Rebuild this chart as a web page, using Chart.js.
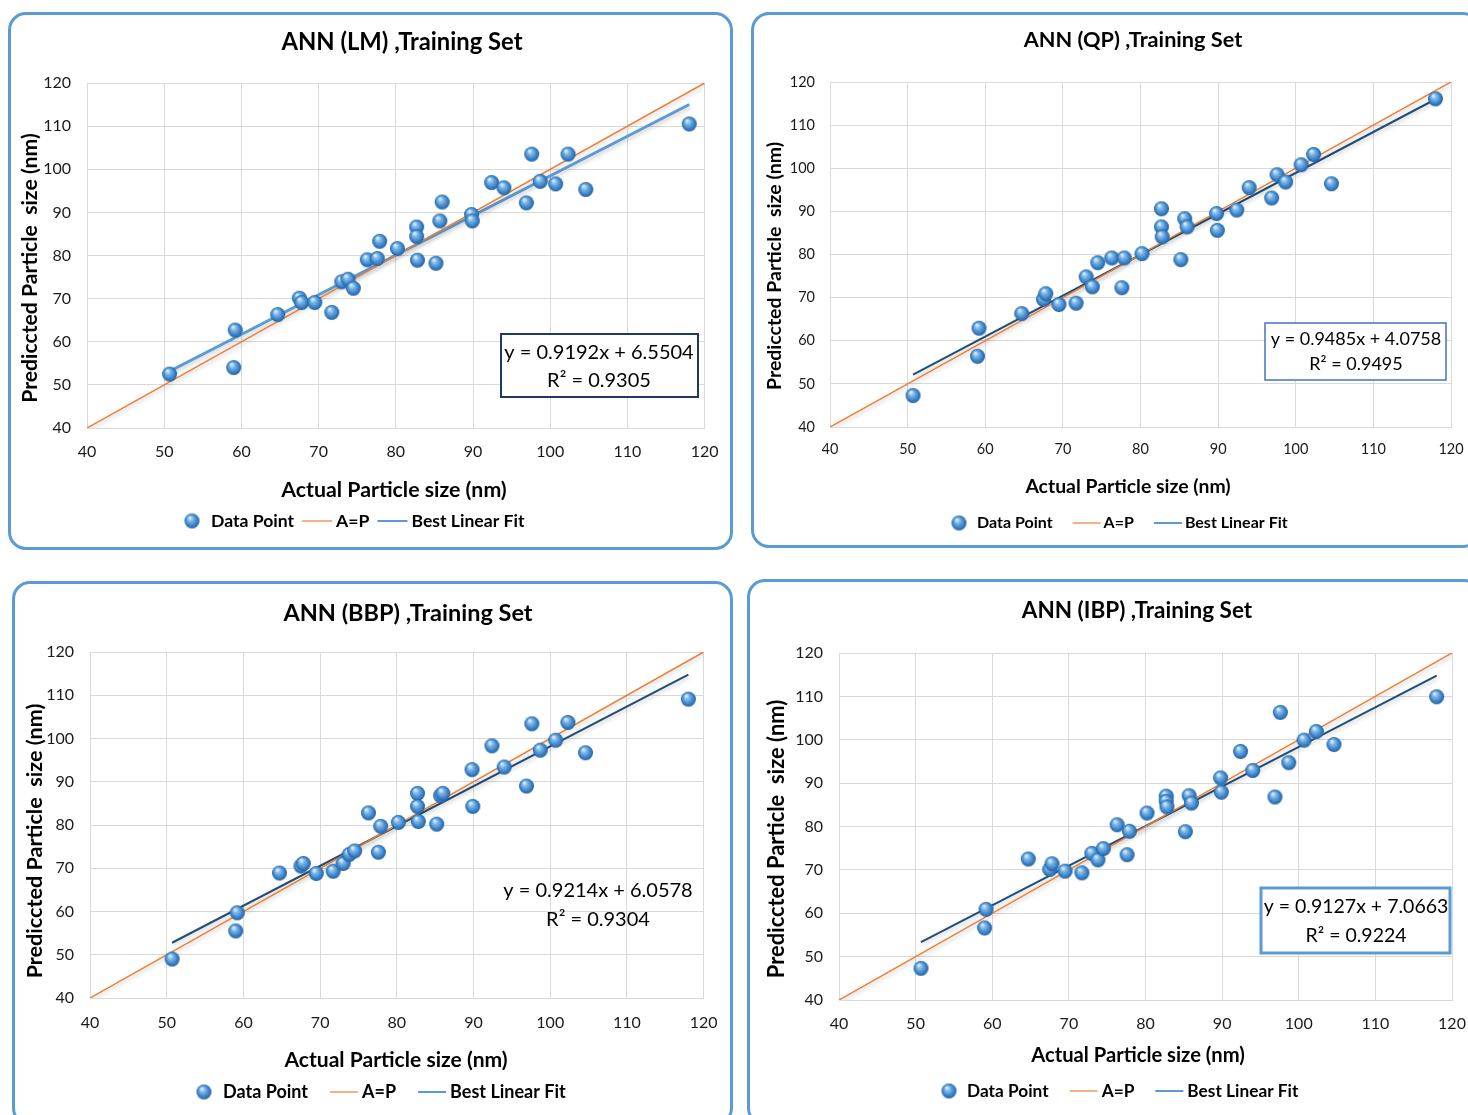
<!DOCTYPE html>
<html>
<head>
<meta charset="utf-8">
<title>ANN Training Set – Actual vs Predicted Particle Size</title>
<script src="https://cdn.jsdelivr.net/npm/chart.js@4.4.1/dist/chart.umd.min.js"></script>
<style>
  html, body { margin: 0; padding: 0; background: #ffffff; }
  body { width: 1468px; height: 1115px; overflow: hidden; position: relative; }
  .frame { position: absolute; box-sizing: border-box; border: 3px solid #5b9bd5; border-radius: 18px; }
  .panel { position: absolute; }
  .panel canvas { display: block; }
</style>
</head>
<body>
<script>
const FONT = "Lato, 'Noto Sans', sans-serif";

// Actual particle sizes of the training samples (nm)
const actualSize = [50.7, 59.0, 59.2, 64.7, 67.5, 67.8, 69.5, 71.7, 73.0, 73.8, 74.5, 76.3, 77.6, 77.9, 80.2, 82.7,
                    82.7, 82.8, 85.2, 85.7, 86.0, 89.8, 89.9, 92.4, 94.0, 96.9, 97.6, 98.7, 100.7, 102.3, 104.6, 118.0];

// Network predictions for each training algorithm (nm)
const predictedLM  = [52.5, 54.0, 62.7, 66.3, 70.1, 69.1, 69.1, 66.8, 73.9, 74.5, 72.4, 79.0, 79.3, 83.3, 81.6, 86.6,
                      84.4, 78.9, 78.2, 88.0, 92.4, 89.5, 88.0, 96.9, 95.7, 92.2, 103.5, 97.2, 96.6, 103.5, 95.3, 110.5];
const predictedQP  = [47.3, 56.4, 62.9, 66.3, 69.6, 70.9, 68.4, 68.7, 74.8, 72.5, 78.1, 79.2, 72.3, 79.2, 80.2, 90.6,
                      86.4, 84.1, 78.8, 88.3, 86.4, 89.5, 85.6, 90.3, 95.5, 93.1, 98.5, 96.8, 100.8, 103.2, 96.4, 116.1];
const predictedBBP = [49.0, 55.5, 59.7, 68.9, 70.5, 71.1, 68.8, 69.3, 71.1, 73.2, 74.0, 82.8, 73.7, 79.7, 80.6, 87.3,
                      84.3, 80.8, 80.2, 86.8, 87.3, 92.8, 84.3, 98.3, 93.4, 89.0, 103.4, 97.3, 99.6, 103.7, 96.7, 109.1];
const predictedIBP = [47.3, 56.6, 60.9, 72.5, 70.1, 71.4, 69.7, 69.3, 73.8, 72.3, 74.9, 80.4, 73.5, 78.9, 83.1, 87.0,
                      85.8, 84.5, 78.8, 87.1, 85.4, 91.2, 87.9, 97.3, 92.9, 86.8, 106.3, 94.7, 99.9, 101.9, 98.9, 109.9];

const methodNames  = ['LM', 'QP', 'BBP', 'IBP'];
const predictions  = [predictedLM, predictedQP, predictedBBP, predictedIBP];
const fitSlope     = [0.9192, 0.9485, 0.9214, 0.9127];
const fitIntercept = [6.5504, 4.0758, 6.0578, 7.0663];
const rSquared     = [0.9305, 0.9495, 0.9304, 0.9224];

const axisTicks    = [40, 50, 60, 70, 80, 90, 100, 110, 120];
const seriesLabels = ['Data Point', 'A=P', 'Best Linear Fit'];
const xAxisTitle   = 'Actual Particle size (nm)';
const yAxisTitle   = 'Prediccted Particle  size (nm)';

// Page geometry of every panel (page pixels)
const panelLayout = [
  { box: [8, 12, 725, 538], plot: [87, 83, 706, 428],
    tickSize: 16, xTickPad: 14.4, yTickPad: 16,
    titleSize: 23.8, titlePos: [402, 42],
    xTitleSize: 21.3, xTitlePos: [394, 490],
    yTitleSize: 21.2, yTitlePos: [30, 268],
    legend: { size: 17.6, y: 521, sphereX: 192, textX: 211, gap: 8, lineLen: 30, lineGap: 4 },
    eq: { size: 20, cx: 599, y1: 353, y2: 381, box: [501, 334, 698, 397], boxColor: '#203864', boxWidth: 2 },
    fitColor: '#5b9bd5', fitWidth: 3 },
  { box: [751, 12, 730, 536], plot: [830, 82, 1451, 427],
    tickSize: 14.5, xTickPad: 13.3, yTickPad: 15,
    titleSize: 21.7, titlePos: [1133, 40],
    xTitleSize: 19.4, xTitlePos: [1128, 487],
    yTitleSize: 19.5, yTitlePos: [775, 266],
    legend: { size: 16, y: 523, sphereX: 959, textX: 977, gap: 20, lineLen: 28, lineGap: 3 },
    eq: { size: 18, cx: 1356, y1: 339, y2: 364, box: [1265, 323, 1446, 380], boxColor: '#4472c4', boxWidth: 1.5 },
    fitColor: '#1f4e79', fitWidth: 2 },
  { box: [12, 581, 721, 545], plot: [90, 652, 707, 998],
    tickSize: 16, xTickPad: 15.4, yTickPad: 16,
    titleSize: 23.5, titlePos: [408, 613],
    xTitleSize: 21.1, xTitlePos: [396, 1060],
    yTitleSize: 21.6, yTitlePos: [35, 841],
    legend: { size: 18, y: 1092, sphereX: 204, textX: 223, gap: 22, lineLen: 28, lineGap: 4 },
    eq: { size: 20, cx: 598, y1: 891, y2: 920, box: null },
    fitColor: '#1f4e79', fitWidth: 2 },
  { box: [747, 579, 735, 547], plot: [839, 653, 1452, 1000],
    tickSize: 16, xTickPad: 14.4, yTickPad: 16,
    titleSize: 22.5, titlePos: [1137, 611],
    xTitleSize: 20.2, xTitlePos: [1138, 1055],
    yTitleSize: 21.9, yTitlePos: [777, 839],
    legend: { size: 17.3, y: 1091, sphereX: 949, textX: 967, gap: 21, lineLen: 28, lineGap: 4 },
    eq: { size: 19.5, cx: 1356, y1: 907, y2: 936, box: [1261, 888, 1450, 953], boxColor: '#5b9bd5', boxWidth: 3 },
    fitColor: '#1f4e79', fitWidth: 2 }
];

// Shaded sphere used as the marker of the data points
function makeSphere(d) {
  const c = document.createElement('canvas');
  c.width = c.height = d + 2;
  const g = c.getContext('2d');
  const r = d / 2, cx = r + 1, cy = r + 1;
  const grad = g.createRadialGradient(cx - r * 0.3, cy - r * 0.45, r * 0.08, cx, cy, r);
  grad.addColorStop(0, '#dcefff');
  grad.addColorStop(0.3, '#7db8ea');
  grad.addColorStop(0.72, '#3d84c8');
  grad.addColorStop(1, '#22609f');
  g.fillStyle = grad;
  g.beginPath();
  g.arc(cx, cy, r, 0, Math.PI * 2);
  g.fill();
  return c;
}
const sphere = makeSphere(15);

// Draws the panel title, both axis titles, the legend and the trend-line equation
const panelDecor = {
  id: 'panelDecor',
  beforeDatasetDraw(chart, args) {
    if (args.index === 0) return;
    const ctx = chart.ctx;
    ctx.save();
    ctx.shadowColor = 'rgba(0,0,0,0.22)';
    ctx.shadowBlur = 4;
    ctx.shadowOffsetX = 1;
    ctx.shadowOffsetY = 2;
  },
  afterDatasetDraw(chart, args) {
    if (args.index === 0) return;
    chart.ctx.restore();
  },
  afterDraw(chart, args, o) {
    const ctx = chart.ctx;
    const [ox, oy] = o.origin;
    ctx.save();
    ctx.fillStyle = '#000';
    ctx.textBaseline = 'middle';

    ctx.textAlign = 'center';
    ctx.font = `bold ${o.titleSize}px ${FONT}`;
    ctx.fillText(o.title, o.titlePos[0] - ox, o.titlePos[1] - oy);

    ctx.font = `bold ${o.xTitleSize}px ${FONT}`;
    ctx.fillText(o.xTitle, o.xTitlePos[0] - ox, o.xTitlePos[1] - oy);

    ctx.save();
    ctx.translate(o.yTitlePos[0] - ox, o.yTitlePos[1] - oy);
    ctx.rotate(-Math.PI / 2);
    ctx.font = `bold ${o.yTitleSize}px ${FONT}`;
    ctx.fillText(o.yTitle, 0, 0);
    ctx.restore();

    // legend
    const lg = o.legend;
    const ds = chart.data.datasets;
    const ly = lg.y - oy;
    ctx.drawImage(sphere, lg.sphereX - ox - sphere.width / 2, ly - sphere.height / 2);
    ctx.textAlign = 'left';
    ctx.font = `bold ${lg.size}px ${FONT}`;
    let x = lg.textX - ox;
    ctx.fillText(ds[0].label, x, ly);
    x += ctx.measureText(ds[0].label).width + lg.gap;
    for (let k = 1; k < ds.length; k++) {
      ctx.strokeStyle = o.legendLineColors[k - 1];
      ctx.lineWidth = 2;
      ctx.beginPath();
      ctx.moveTo(x, ly);
      ctx.lineTo(x + lg.lineLen, ly);
      ctx.stroke();
      x += lg.lineLen + lg.lineGap;
      ctx.fillText(ds[k].label, x, ly);
      x += ctx.measureText(ds[k].label).width + lg.gap;
    }

    // trend-line equation
    const eq = o.eq;
    if (eq.box) {
      const [l, t, r, b] = eq.box;
      ctx.fillStyle = '#fff';
      ctx.fillRect(l - ox, t - oy, r - l, b - t);
      ctx.strokeStyle = eq.boxColor;
      ctx.lineWidth = eq.boxWidth;
      ctx.strokeRect(l - ox, t - oy, r - l, b - t);
    }
    ctx.fillStyle = '#000';
    ctx.textAlign = 'center';
    ctx.font = `${eq.size}px ${FONT}`;
    ctx.fillText(o.eqLines[0], eq.cx - ox, eq.y1 - oy);
    ctx.fillText(o.eqLines[1], eq.cx - ox, eq.y2 - oy);
    ctx.restore();
  }
};

Chart.defaults.font.family = FONT;

panelLayout.forEach((lo, i) => {
  const [bx, by, bw, bh] = lo.box;
  const [pl, pt, pr, pb] = lo.plot;

  const frame = document.createElement('div');
  frame.className = 'frame';
  Object.assign(frame.style, { left: bx + 'px', top: by + 'px', width: bw + 'px', height: bh + 'px' });
  document.body.appendChild(frame);

  const holder = document.createElement('div');
  holder.className = 'panel';
  Object.assign(holder.style, { left: bx + 'px', top: by + 'px', width: bw + 'px', height: bh + 'px' });
  const canvas = document.createElement('canvas');
  canvas.width = bw;
  canvas.height = bh;
  holder.appendChild(canvas);
  document.body.appendChild(holder);

  const yWidth = pl - bx;
  const xHeight = 48;
  const padBottom = bh - (pb - by) - xHeight;

  const preds = predictions[i];
  const xMin = Math.min(...actualSize), xMax = Math.max(...actualSize);
  const lo0 = axisTicks[0], hi0 = axisTicks[axisTicks.length - 1];

  new Chart(canvas, {
    type: 'scatter',
    data: {
      datasets: [
        { label: seriesLabels[0],
          data: actualSize.map((a, k) => ({ x: a, y: preds[k] })),
          pointStyle: sphere, pointRadius: 7.5, pointHoverRadius: 7.5 },
        { label: seriesLabels[1],
          data: [{ x: lo0, y: lo0 }, { x: hi0, y: hi0 }],
          showLine: true, borderColor: '#ed7d31', borderWidth: 1.5, pointRadius: 0, pointHoverRadius: 0 },
        { label: seriesLabels[2],
          data: [xMin, xMax].map(a => ({ x: a, y: fitSlope[i] * a + fitIntercept[i] })),
          showLine: true, borderColor: lo.fitColor, borderWidth: lo.fitWidth, pointRadius: 0, pointHoverRadius: 0 }
      ]
    },
    options: {
      responsive: false,
      animation: false,
      events: [],
      layout: { padding: { left: 0, top: pt - by, right: bx + bw - pr, bottom: padBottom } },
      scales: {
        x: {
          type: 'linear', min: lo0, max: hi0,
          afterBuildTicks: s => { s.ticks = axisTicks.map(v => ({ value: v })); },
          afterFit: s => { s.height = xHeight; },
          ticks: { padding: lo.xTickPad, color: '#1a1a1a', font: { size: lo.tickSize } },
          grid: { color: '#d9d9d9', lineWidth: 1, drawTicks: false },
          border: { color: '#d9d9d9' },
          title: { display: false, text: xAxisTitle }
        },
        y: {
          type: 'linear', min: lo0, max: hi0,
          afterBuildTicks: s => { s.ticks = axisTicks.map(v => ({ value: v })); },
          afterFit: s => { s.width = yWidth; },
          ticks: { padding: lo.yTickPad, color: '#1a1a1a', font: { size: lo.tickSize } },
          grid: { color: '#d9d9d9', lineWidth: 1, drawTicks: false },
          border: { color: '#d9d9d9' },
          title: { display: false, text: yAxisTitle }
        }
      },
      plugins: {
        legend: { display: false },
        tooltip: { enabled: false },
        title: { display: false },
        panelDecor: {
          origin: [bx, by],
          title: `ANN (${methodNames[i]}) ,Training Set`,
          titleSize: lo.titleSize, titlePos: lo.titlePos,
          xTitle: xAxisTitle, xTitleSize: lo.xTitleSize, xTitlePos: lo.xTitlePos,
          yTitle: yAxisTitle, yTitleSize: lo.yTitleSize, yTitlePos: lo.yTitlePos,
          legend: lo.legend,
          legendLineColors: ['#f4b183', '#5b9bd5'],
          eq: lo.eq,
          eqLines: [`y = ${fitSlope[i].toFixed(4)}x + ${fitIntercept[i].toFixed(4)}`,
                    `R² = ${rSquared[i].toFixed(4)}`]
        }
      }
    },
    plugins: [panelDecor]
  });
});
</script>
</body>
</html>
